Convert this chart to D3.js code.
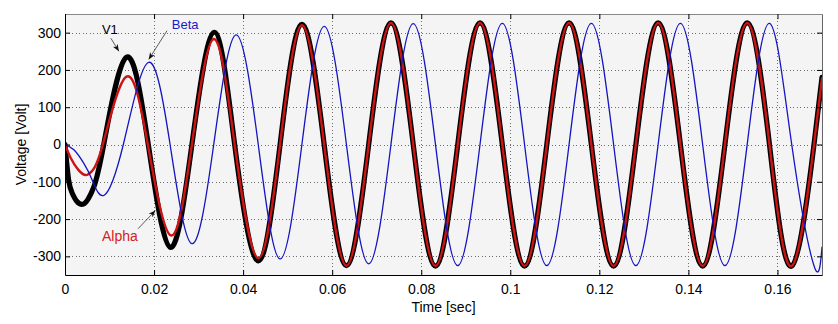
<!DOCTYPE html>
<html>
<head>
<meta charset="utf-8">
<script src="https://cdn.jsdelivr.net/npm/d3@7"></script>
<style>
  html, body { margin: 0; padding: 0; background: #ffffff; }
  svg { display: block; }
  text { font-family: "Liberation Sans", Arial, sans-serif; }
</style>
</head>
<body>
<svg id="chart" width="838" height="324"></svg>
<script>
// ---- data ----
const xTicks = [0, 0.02, 0.04, 0.06, 0.08, 0.1, 0.12, 0.14, 0.16];
const xTickLabels = ["0", "0.02", "0.04", "0.06", "0.08", "0.1", "0.12", "0.14", "0.16"];
const yTicks = [-300, -200, -100, 0, 100, 200, 300];
const yTickLabels = ["-300", "-200", "-100", "0", "100", "200", "300"];

const v1Time = [0, 0.0008, 0.0016, 0.0027, 0.0041, 0.0053, 0.0065, 0.0087, 0.0138, 0.0187, 0.0237, 0.0285, 0.0335, 0.0381, 0.0434, 0.0483,
  0.0532, 0.0582, 0.0632, 0.0682, 0.0732, 0.0782, 0.0832, 0.0882, 0.0932, 0.0982,
  0.1032, 0.1082, 0.1132, 0.1182, 0.1232, 0.1282, 0.1332, 0.1382, 0.1432, 0.1482,
  0.1532, 0.1582, 0.1632, 0.1682, 0.17];
const v1Volt = [0, -94, -130, -153, -160, -144, -113, 0, 234, 0, -276, 0, 301, 0, -312, 0,
  322, 0, -325, 0, 326, 0, -326, 0, 326, 0,
  -326, 0, 326, 0, -326, 0, 326, 0, -326, 0,
  326, 0, -326, 0, 180];

const alphaTime = [0, 0.0012, 0.0030, 0.0047, 0.0060, 0.0085, 0.0138, 0.0186, 0.0238, 0.0285, 0.0334, 0.0381, 0.0434, 0.0483,
  0.0532, 0.0582, 0.0632, 0.0682, 0.0732, 0.0782, 0.0832, 0.0882, 0.0932, 0.0982,
  0.1032, 0.1082, 0.1132, 0.1182, 0.1232, 0.1282, 0.1332, 0.1382, 0.1432, 0.1482,
  0.1532, 0.1582, 0.1632, 0.1682, 0.17];
const alphaVolt = [0, -34, -68, -82, -72, 0, 182, 0, -244, 0, 283, 0, -305, 0,
  320, 0, -325, 0, 326, 0, -326, 0, 326, 0,
  -326, 0, 326, 0, -326, 0, 326, 0, -326, 0,
  326, 0, -326, 0, 178];

const betaTime = [0, 0.002, 0.0042, 0.0061, 0.0088, 0.0131, 0.0187, 0.0236, 0.0285, 0.0334, 0.0384, 0.0434, 0.0483,
  0.0532, 0.0582, 0.0632, 0.0682, 0.0732, 0.0782, 0.0832, 0.0882, 0.0932, 0.0982,
  0.1032, 0.1082, 0.1132, 0.1182, 0.1232, 0.1282, 0.1332, 0.1382, 0.1432, 0.1482,
  0.1532, 0.1582, 0.1632, 0.1682, 0.17];
const betaVolt = [0, -14, -50, -95, -136, 0, 220, 0, -266, 0, 294, 0, -307,
  0, 317, 0, -320, 0, 324, 0, -325, 0, 325,
  0, -325, 0, 325, 0, -325, 0, 325, 0, -325,
  0, 325, 0, -325, -275];

// annotations: label, text position, arrow from, arrow to (data units)
const annotations = [
  { label: "V1",    color: "#000000", tx: 0.0083, ty: 296, fx: 0.0103, fy: 285, ax: 0.0121, ay: 250, size: 13 },
  { label: "Beta",  color: "#1a1ac8", tx: 0.0240, ty: 310, fx: 0.0229, fy: 305, ax: 0.0188, ay: 228, size: 13 },
  { label: "Alpha", color: "#d42020", tx: 0.0083, ty: -258, fx: 0.0164, fy: -226, ax: 0.0203, ay: -177, size: 14 }
];

// ---- layout ----
const W = 838, H = 324;
const margin = { left: 65, right: 16, top: 14, bottom: 49 };
const pw = W - margin.left - margin.right;
const ph = H - margin.top - margin.bottom;

const svg = d3.select("#chart");
const x = d3.scaleLinear().domain([0, 0.17]).range([margin.left, margin.left + pw]);
const y = d3.scaleLinear().domain([-350, 350]).range([margin.top + ph, margin.top]);

// plot background
svg.append("rect").attr("x", margin.left).attr("y", margin.top)
  .attr("width", pw).attr("height", ph).attr("fill", "#f4f4f4");

// grid
const grid = svg.append("g").attr("stroke", "#6e6e6e").attr("stroke-width", 1)
  .attr("stroke-dasharray", "1,2.5").attr("shape-rendering", "crispEdges");
grid.selectAll(".gx").data(xTicks.slice(1)).join("line")
  .attr("x1", d => Math.round(x(d)) + 0.5).attr("x2", d => Math.round(x(d)) + 0.5)
  .attr("y1", margin.top).attr("y2", margin.top + ph);
grid.selectAll(".gy").data(yTicks).join("line")
  .attr("y1", d => Math.round(y(d)) + 0.5).attr("y2", d => Math.round(y(d)) + 0.5)
  .attr("x1", margin.left).attr("x2", margin.left + pw);

// clip
svg.append("clipPath").attr("id", "clip").append("rect")
  .attr("x", margin.left).attr("y", margin.top).attr("width", pw).attr("height", ph);

const line = d3.line().x(d => x(d[0])).y(d => y(d[1])).curve(d3.curveNatural);
const plot = svg.append("g").attr("clip-path", "url(#clip)");

const series = [
  { t: v1Time, v: v1Volt, color: "#000000", w: 5.2 },
  { t: alphaTime, v: alphaVolt, color: "#cc1414", w: 2.4 },
  { t: betaTime, v: betaVolt, color: "#1414c0", w: 1.3 }
];
series.forEach(s => {
  plot.append("path")
    .datum(s.t.map((t, i) => [t, s.v[i]]))
    .attr("d", line)
    .attr("fill", "none")
    .attr("stroke", s.color)
    .attr("stroke-width", s.w)
    .attr("stroke-linejoin", "round")
    .attr("stroke-linecap", "round");
});

// axes (MATLAB style: inward ticks on all sides)
const tickLen = 5;
const xAxisB = d3.axisBottom(x).tickValues(xTicks).tickSizeInner(-tickLen).tickSizeOuter(0)
  .tickPadding(9).tickFormat((d, i) => xTickLabels[i]);
const xAxisT = d3.axisTop(x).tickValues(xTicks).tickSizeInner(-tickLen).tickSizeOuter(0).tickFormat("");
const yAxisL = d3.axisLeft(y).tickValues(yTicks).tickSizeInner(-tickLen).tickSizeOuter(0)
  .tickPadding(4).tickFormat((d, i) => yTickLabels[i]);
const yAxisR = d3.axisRight(y).tickValues(yTicks).tickSizeInner(-tickLen).tickSizeOuter(0).tickFormat("");

function style(g, col) {
  g.selectAll("path").attr("stroke", col);
  g.selectAll("line").attr("stroke", "#000");
  g.selectAll("text").attr("fill", "#000").attr("font-size", 14)
    .attr("font-family", "'Liberation Sans', Arial, sans-serif");
}
svg.append("g").attr("transform", `translate(0,${margin.top})`).call(xAxisT).call(g => style(g, "#888"));
svg.append("g").attr("transform", `translate(${margin.left + pw},0)`).call(yAxisR).call(g => style(g, "#666"));
svg.append("g").attr("transform", `translate(0,${margin.top + ph})`).call(xAxisB).call(g => style(g, "#000"));
svg.append("g").attr("transform", `translate(${margin.left},0)`).call(yAxisL).call(g => style(g, "#000"));

// axis titles
svg.append("text").attr("x", x(0.085)).attr("y", 312).attr("text-anchor", "middle")
  .attr("font-size", 14).attr("fill", "#000").text("Time [sec]");
svg.append("text").attr("transform", `translate(26,${y(0)}) rotate(-90)`).attr("text-anchor", "middle")
  .attr("font-size", 14).attr("fill", "#000").text("Voltage [Volt]");

// annotations
const defs = svg.append("defs");
defs.append("marker").attr("id", "arrowhead").attr("viewBox", "0 0 10 10")
  .attr("refX", 10).attr("refY", 5).attr("markerWidth", 7).attr("markerHeight", 7)
  .attr("markerUnits", "userSpaceOnUse").attr("orient", "auto")
  .append("path").attr("d", "M0,1 L10,5 L0,9 L3,5 Z").attr("fill", "#111");

annotations.forEach(a => {
  svg.append("line")
    .attr("x1", x(a.fx)).attr("y1", y(a.fy)).attr("x2", x(a.ax)).attr("y2", y(a.ay))
    .attr("stroke", "#333").attr("stroke-width", 0.8).attr("marker-end", "url(#arrowhead)");
  svg.append("text").attr("x", x(a.tx)).attr("y", y(a.ty))
    .attr("font-size", a.size).attr("fill", a.color).text(a.label);
});
</script>
</body>
</html>
